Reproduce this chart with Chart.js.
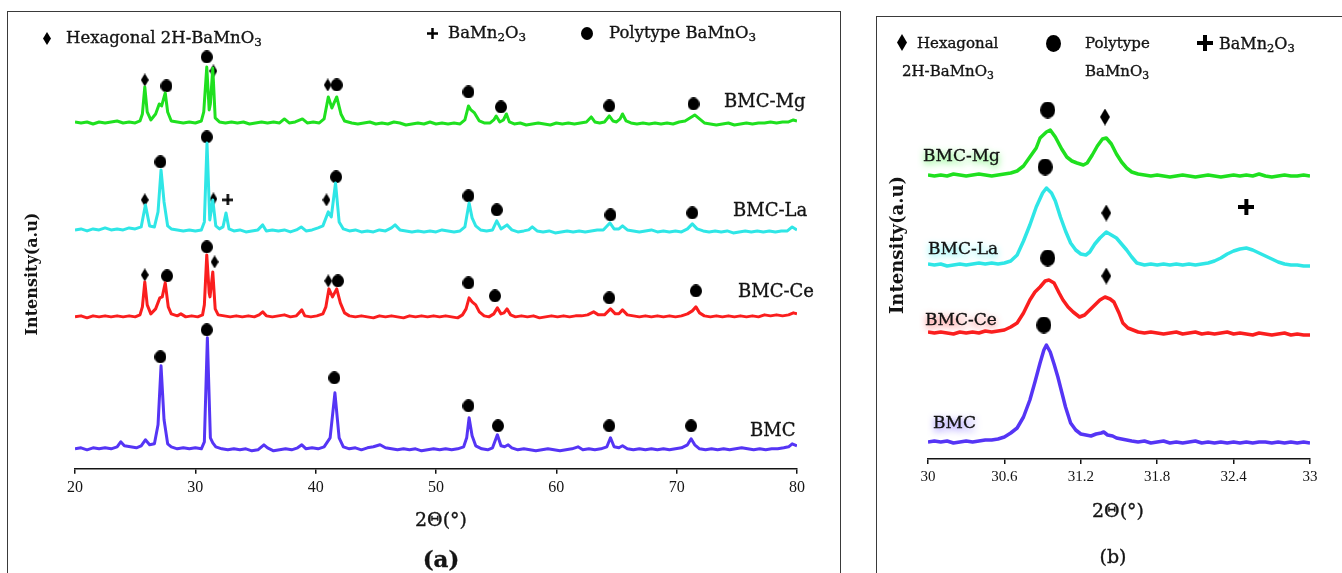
<!DOCTYPE html>
<html>
<head>
<meta charset="utf-8">
<script src="https://cdn.jsdelivr.net/npm/chart.js@4.4.0/dist/chart.umd.min.js"></script>
<style>
  html, body { margin: 0; padding: 0; background: #fff; }
  body { width: 1342px; height: 573px; position: relative; overflow: hidden;
         font-family: "DejaVu Serif", serif; color: #141414; }
  .frame { position: absolute; border: 1.5px solid #3a3a3a; height: 700px; }
  .t { position: absolute; white-space: nowrap; line-height: 1; transform: translateY(-50%);
       -webkit-text-stroke: 0.35px #141414; }
  .c { transform: translate(-50%, -50%); }
  .rot { position: absolute; white-space: nowrap; line-height: 1; font-weight: bold;
         transform: translate(-50%, -50%) rotate(-90deg); }
  sub { font-size: 0.72em; vertical-align: -0.3em; line-height: 0; }
  .mk { position: absolute; }
  canvas.chart { position: absolute; }
</style>
</head>
<body>
<div class="frame" style="left:7px; top:11px; width:832px;"></div>
<div class="frame" style="left:876px; top:16px; width:480px;"></div>

<canvas id="chartA" class="chart" width="832" height="561" style="left:8px; top:12px;"></canvas>
<canvas id="chartB" class="chart" width="465" height="556" style="left:877px; top:17px;"></canvas>

<!-- panel (a) texts -->
<div class="t" style="left:66px; top:38px; font-size:16.5px;">Hexagonal 2H-BaMnO<sub>3</sub></div>
<div class="t" style="left:448px; top:33px; font-size:16.5px;">BaMn<sub>2</sub>O<sub>3</sub></div>
<div class="t" style="left:609px; top:33px; font-size:16.5px;">Polytype BaMnO<sub>3</sub></div>
<div class="t" style="left:724px; top:101px; font-size:18px;">BMC-Mg</div>
<div class="t" style="left:733px; top:210px; font-size:18px;">BMC-La</div>
<div class="t" style="left:738px; top:291px; font-size:18px;">BMC-Ce</div>
<div class="t" style="left:750px; top:430px; font-size:18px;">BMC</div>
<div class="rot" style="left:32px; top:274px; font-size:16px;">Intensity(a.u)</div>
<div class="t c" style="left:441px; top:519px; font-size:19px;">2Θ(°)</div>
<div class="t c" style="left:441px; top:558px; font-size:23px; font-weight:bold;">(a)</div>

<!-- panel (b) texts -->
<div class="t" style="left:917px; top:43px; font-size:15px;">Hexagonal</div>
<div class="t" style="left:902px; top:71px; font-size:15px;">2H-BaMnO<sub>3</sub></div>
<div class="t" style="left:1085px; top:43px; font-size:15px;">Polytype</div>
<div class="t" style="left:1085px; top:71px; font-size:15px;">BaMnO<sub>3</sub></div>
<div class="t" style="left:1219px; top:44px; font-size:16px;">BaMn<sub>2</sub>O<sub>3</sub></div>
<div class="t" style="left:923px; top:155px; font-size:17px; text-shadow:0 3px 7px #3df03d;">BMC-Mg</div>
<div class="t" style="left:928px; top:248px; font-size:17px; text-shadow:0 3px 7px #3ff0f0;">BMC-La</div>
<div class="t" style="left:925px; top:319px; font-size:17px; text-shadow:0 3px 7px #ff4a4a;">BMC-Ce</div>
<div class="t" style="left:933px; top:422px; font-size:17px; text-shadow:0 3px 7px #6a50ff;">BMC</div>
<div class="rot" style="left:897px; top:245px; font-size:18px;">Intensity(a.u)</div>
<div class="t c" style="left:1118px; top:510px; font-size:19px;">2Θ(°)</div>
<div class="t c" style="left:1113px; top:556px; font-size:19px;">(b)</div>

<script>
// ---------- panel (a): 2theta 20-80, intensity above each trace's own baseline ----------
const ticksA = [20, 30, 40, 50, 60, 70, 80];
const seriesNames = ["BMC-Mg", "BMC-La", "BMC-Ce", "BMC"];
const seriesColors = ["#1fe01f", "#2fe6e6", "#fa1e1e", "#5535f5"];
const offsetsA = [345, 237, 152, 19];

const mgA = [[20,2],[20.5,1],[21,2],[21.5,0],[22,2],[22.5,1],[23,2],[23.5,3],[24,1],[24.5,2],[25,1],[25.4,3],[25.6,10],[25.8,37],[26,12],[26.3,4],[26.7,10],[27,20],[27.2,18],[27.5,31],[27.7,12],[28,3],[28.5,2],[29,1],[29.5,2],[30,1],[30.5,3],[30.7,12],[30.95,57],[31.15,14],[31.25,20],[31.45,56],[31.65,6],[32,2],[32.5,1],[33,2],[33.5,1],[34,2],[34.5,0],[35,1],[35.5,2],[36,1],[36.5,2],[37,1],[37.4,5],[37.8,1],[38.3,2],[38.9,5],[39.3,1],[39.8,2],[40.3,1],[40.7,5],[41.05,27],[41.35,16],[41.75,27],[42.1,10],[42.4,3],[43,1],[43.5,0],[44,1],[44.5,2],[45,0],[45.5,1],[46,0],[46.5,2],[47,1],[47.5,-1],[48,0],[48.5,1],[49,0],[49.5,2],[50,0],[50.5,1],[51,0],[51.5,1],[52,0],[52.4,4],[52.7,18],[52.9,14],[53.2,11],[53.6,3],[54,1],[54.5,1],[54.8,4],[55,8],[55.3,2],[55.6,4],[55.85,10],[56.1,2],[56.5,0],[57,1],[57.5,-1],[58,0],[58.5,1],[59,0],[59.5,-1],[60,1],[60.5,0],[61,1],[61.5,0],[62,1],[62.5,2],[62.9,7],[63.2,2],[63.6,1],[64,2],[64.4,8],[64.7,3],[65,2],[65.3,5],[65.5,10],[65.8,3],[66.2,1],[66.7,0],[67.2,1],[67.7,0],[68.2,1],[68.7,0],[69.2,1],[69.7,0],[70.2,2],[70.7,3],[71.1,6],[71.5,9],[71.9,5],[72.3,1],[72.8,0],[73.3,-1],[73.8,0],[74.3,1],[74.8,-1],[75.3,0],[75.8,1],[76.3,0],[76.8,1],[77.3,1],[77.8,2],[78.3,1],[78.8,2],[79.3,2],[79.7,4],[80,3]];
const laA = [[20,2],[20.5,3],[21,1],[21.5,3],[22,2],[22.5,4],[23,2],[23.5,3],[24,2],[24.5,4],[25,3],[25.5,5],[25.85,27],[26.2,6],[26.6,5],[26.9,20],[27.15,62],[27.4,30],[27.7,6],[28,3],[28.5,2],[29,1],[29.5,2],[30,1],[30.5,2],[30.75,10],[30.97,89],[31.2,12],[31.45,32],[31.7,6],[32,3],[32.3,5],[32.55,19],[32.8,3],[33.2,1],[33.7,2],[34.2,0],[34.7,1],[35.2,2],[35.6,7],[35.9,1],[36.4,2],[36.9,1],[37.4,2],[37.9,0],[38.4,2],[38.8,5],[39.2,1],[39.7,2],[40.2,4],[40.6,6],[41.05,20],[41.3,15],[41.65,49],[41.95,10],[42.3,3],[42.8,1],[43.3,2],[43.8,0],[44.3,1],[44.8,0],[45.3,2],[45.8,1],[46.3,4],[46.6,7],[47,2],[47.5,1],[48,0],[48.5,1],[49,0],[49.5,1],[50,0],[50.5,2],[51,1],[51.5,0],[52,1],[52.4,5],[52.75,29],[53,14],[53.3,6],[53.7,2],[54.2,1],[54.7,2],[55.05,11],[55.4,3],[55.9,7],[56.3,2],[56.8,0],[57.3,1],[57.7,2],[58,5],[58.4,1],[58.9,0],[59.4,1],[59.9,-1],[60.4,0],[60.9,1],[61.4,0],[61.9,1],[62.4,0],[62.9,1],[63.4,2],[63.9,2],[64.45,9],[64.8,3],[65.2,3],[65.5,6],[65.9,2],[66.4,1],[66.9,0],[67.4,1],[67.9,2],[68.4,0],[68.9,1],[69.4,0],[69.9,1],[70.4,0],[70.9,3],[71.3,8],[71.7,3],[72.2,1],[72.7,0],[73.2,1],[73.7,0],[74.2,1],[74.7,-1],[75.2,0],[75.7,1],[76.2,0],[76.7,1],[77.2,0],[77.7,1],[78.2,0],[78.7,1],[79.2,1],[79.6,5],[80,2]];
const ceA = [[20,0],[20.5,1],[21,-1],[21.5,1],[22,0],[22.5,1],[23,0],[23.5,1],[24,0],[24.5,1],[25,0],[25.4,2],[25.6,10],[25.8,35],[26,12],[26.3,3],[26.7,8],[27.05,19],[27.25,20],[27.5,34],[27.75,10],[28,3],[28.5,1],[28.8,3],[29.2,0],[29.7,1],[30.2,0],[30.6,2],[30.75,12],[30.95,62],[31.15,24],[31.22,20],[31.45,45],[31.65,8],[31.9,2],[32.4,1],[32.9,0],[33.4,1],[33.9,0],[34.4,1],[34.9,0],[35.3,2],[35.6,5],[35.9,1],[36.4,0],[36.9,1],[37.4,2],[37.9,0],[38.4,1],[38.85,7],[39.1,1],[39.6,0],[40.1,1],[40.6,3],[40.85,10],[41.1,28],[41.4,20],[41.75,28],[42.05,14],[42.4,4],[42.8,1],[43.3,0],[43.8,1],[44.3,0],[44.8,-1],[45.3,1],[45.8,0],[46.3,1],[46.8,0],[47.3,-1],[47.8,1],[48.3,0],[48.8,1],[49.3,0],[49.8,1],[50.3,0],[50.8,1],[51.3,0],[51.8,-1],[52.2,2],[52.5,8],[52.75,19],[53,15],[53.3,12],[53.6,5],[54,1],[54.4,0],[54.8,3],[55.1,9],[55.4,3],[55.65,4],[55.9,8],[56.2,2],[56.6,0],[57.1,1],[57.6,0],[58.1,1],[58.6,-1],[59.1,0],[59.6,1],[60.1,0],[60.6,1],[61.1,0],[61.6,1],[62.1,1],[62.6,2],[63.1,5],[63.5,2],[64,2],[64.5,8],[64.9,3],[65.2,3],[65.5,7],[65.9,2],[66.4,1],[66.9,0],[67.4,1],[67.9,0],[68.4,1],[68.9,0],[69.4,1],[69.9,0],[70.4,1],[70.9,3],[71.3,6],[71.6,10],[71.9,4],[72.3,1],[72.8,0],[73.3,1],[73.8,0],[74.3,1],[74.8,0],[75.3,1],[75.8,0],[76.3,1],[76.8,0],[77.3,2],[77.8,1],[78.3,2],[78.8,1],[79.3,2],[79.7,4],[80,3]];
const bmcA = [[20,1],[20.5,2],[21,0],[21.5,2],[22,1],[22.5,2],[23,1],[23.5,3],[23.8,8],[24.1,4],[24.6,3],[25.1,2],[25.5,4],[25.85,10],[26.2,5],[26.6,6],[26.9,25],[27.15,84],[27.4,30],[27.7,6],[28,3],[28.5,1],[29,2],[29.5,1],[30,2],[30.5,1],[30.75,8],[31,112],[31.25,12],[31.45,7],[31.7,3],[32.2,1],[32.7,0],[33.2,1],[33.7,0],[34.2,1],[34.7,-1],[35.2,0],[35.7,5],[36,2],[36.5,-1],[37,0],[37.5,1],[38,0],[38.5,2],[38.85,5],[39.2,1],[39.7,2],[40.2,1],[40.7,3],[41.2,12],[41.6,57],[41.95,12],[42.3,3],[42.8,1],[43.3,2],[43.8,0],[44.3,2],[44.8,3],[45.35,5],[45.8,2],[46.3,1],[46.8,0],[47.3,1],[47.8,0],[48.3,1],[48.8,-1],[49.3,0],[49.8,1],[50.3,0],[50.8,1],[51.3,0],[51.8,1],[52.3,3],[52.55,12],[52.75,32],[53,14],[53.3,4],[53.8,1],[54.3,0],[54.7,2],[55.1,15],[55.4,4],[55.7,3],[56,5],[56.3,2],[56.8,0],[57.3,1],[57.8,0],[58.3,-1],[58.8,0],[59.3,1],[59.8,0],[60.3,-1],[60.8,0],[61.3,1],[61.8,3],[62.2,0],[62.7,1],[63.2,0],[63.7,1],[64.2,3],[64.5,12],[64.8,3],[65.2,2],[65.5,4],[65.9,1],[66.4,0],[66.9,1],[67.4,0],[67.9,1],[68.4,0],[68.9,1],[69.4,0],[69.9,1],[70.4,2],[70.9,5],[71.2,11],[71.5,5],[71.9,1],[72.4,0],[72.9,1],[73.4,0],[73.9,1],[74.4,0],[74.9,1],[75.4,2],[75.9,1],[76.4,0],[76.9,1],[77.4,0],[77.9,1],[78.4,1],[78.9,2],[79.3,3],[79.6,6],[80,4]];

// phase marks: [2theta, height above baseline, kind] d = hexagonal 2H, c = polytype, p = BaMn2O3
const mgMarksA = [[25.8,44,"d"],[27.6,38,"c"],[30.95,67,"c"],[31.5,53,"d"],[41.0,39,"d"],[41.75,39,"c"],[52.7,32,"c"],[55.4,17,"c"],[64.4,18,"c"],[71.4,20,"c"]];
const laMarksA = [[25.8,32,"d"],[27.1,70,"c"],[30.95,95,"c"],[31.5,33,"d"],[32.7,32,"p"],[40.9,32,"d"],[41.7,55,"c"],[52.7,36,"c"],[55.05,22,"c"],[64.5,17,"c"],[71.3,19,"c"]];
const ceMarksA = [[25.8,42,"d"],[27.65,41,"c"],[30.95,70,"c"],[31.6,55,"d"],[41.05,36,"d"],[41.85,36,"c"],[52.7,34,"c"],[54.9,21,"c"],[64.4,19,"c"],[71.6,26,"c"]];
const bmcMarksA = [[27.1,93,"c"],[30.95,120,"c"],[41.55,72,"c"],[52.7,44,"c"],[55.15,24,"c"],[64.4,24,"c"],[71.2,24,"c"]];

// ---------- panel (b): zoom 30-33 ----------
const ticksB = [30, 30.6, 31.2, 31.8, 32.4, 33];
const offsetsB = [283, 194, 126, 17];

const mgB = [[30,1],[30.05,0],[30.1,1],[30.15,0],[30.2,2],[30.25,1],[30.3,0],[30.35,1],[30.4,2],[30.45,1],[30.5,0],[30.55,1],[30.6,2],[30.65,3],[30.7,5],[30.75,10],[30.8,19],[30.85,28],[30.88,38],[30.93,44],[30.96,46],[31,39],[31.05,27],[31.09,19],[31.13,15],[31.17,13],[31.22,11],[31.25,13],[31.29,21],[31.33,30],[31.37,37],[31.4,38],[31.44,32],[31.48,22],[31.52,14],[31.56,8],[31.6,4],[31.65,2],[31.7,1],[31.75,0],[31.8,1],[31.85,0],[31.9,-1],[31.95,0],[32,1],[32.05,0],[32.1,-1],[32.15,0],[32.2,1],[32.25,0],[32.3,-1],[32.35,0],[32.4,1],[32.45,0],[32.5,1],[32.55,0],[32.6,2],[32.65,0],[32.7,-1],[32.75,0],[32.8,1],[32.85,0],[32.9,0],[32.95,1],[33,0]];
const laB = [[30,1],[30.05,0],[30.1,1],[30.15,-1],[30.2,0],[30.25,1],[30.3,0],[30.35,1],[30.4,2],[30.45,1],[30.5,2],[30.55,1],[30.6,2],[30.65,4],[30.7,10],[30.75,24],[30.8,40],[30.85,58],[30.9,72],[30.93,77],[30.97,72],[31,64],[31.04,48],[31.08,34],[31.12,22],[31.16,15],[31.2,11],[31.24,10],[31.27,13],[31.31,21],[31.35,27],[31.4,33],[31.44,30],[31.48,27],[31.52,21],[31.56,15],[31.6,8],[31.64,2],[31.7,0],[31.75,1],[31.8,0],[31.85,1],[31.9,0],[31.95,1],[32,0],[32.05,1],[32.1,0],[32.15,1],[32.2,2],[32.25,4],[32.3,7],[32.35,11],[32.4,14],[32.45,16],[32.5,17],[32.55,15],[32.6,12],[32.65,9],[32.7,6],[32.75,3],[32.8,1],[32.85,0],[32.9,0],[32.95,-1],[33,-1]];
const ceB = [[30,1],[30.05,0],[30.1,1],[30.15,0],[30.2,-1],[30.25,1],[30.3,0],[30.35,1],[30.4,0],[30.45,2],[30.5,1],[30.55,2],[30.6,3],[30.65,6],[30.7,10],[30.75,20],[30.8,33],[30.84,41],[30.88,46],[30.92,52],[30.95,53],[30.99,50],[31.03,40],[31.06,33],[31.1,26],[31.14,21],[31.19,16],[31.23,18],[31.27,23],[31.31,28],[31.35,33],[31.39,36],[31.43,34],[31.46,31],[31.5,20],[31.53,10],[31.57,5],[31.61,3],[31.65,1],[31.7,0],[31.75,1],[31.8,0],[31.85,-1],[31.9,0],[31.95,1],[32,-1],[32.05,0],[32.1,1],[32.15,-1],[32.2,0],[32.25,-1],[32.3,0],[32.35,1],[32.4,-1],[32.45,0],[32.5,-1],[32.55,-2],[32.6,0],[32.65,-1],[32.7,-2],[32.75,-1],[32.8,0],[32.85,-2],[32.9,-1],[32.95,-2],[33,-2]];
const bmcB = [[30,0],[30.05,1],[30.1,0],[30.15,1],[30.2,-1],[30.25,0],[30.3,1],[30.35,0],[30.4,1],[30.45,2],[30.5,2],[30.55,3],[30.6,5],[30.65,9],[30.7,14],[30.75,25],[30.8,42],[30.84,60],[30.88,79],[30.91,92],[30.93,97],[30.96,90],[30.99,78],[31.02,65],[31.05,50],[31.08,35],[31.12,19],[31.16,12],[31.2,8],[31.24,7],[31.28,6],[31.32,8],[31.36,9],[31.38,10],[31.41,7],[31.45,6],[31.48,4],[31.52,3],[31.56,2],[31.6,1],[31.65,0],[31.7,1],[31.75,-1],[31.8,0],[31.85,1],[31.9,-1],[31.95,0],[32,-1],[32.05,0],[32.1,1],[32.15,-1],[32.2,0],[32.25,-1],[32.3,0],[32.35,-1],[32.4,0],[32.45,-1],[32.5,0],[32.55,-1],[32.6,0],[32.65,0],[32.7,-1],[32.75,0],[32.8,-1],[32.85,0],[32.9,-1],[32.95,0],[33,-1]];

const mgMarksB = [[30.94,66,"c"],[31.39,59,"d"]];
const laMarksB = [[30.92,98,"c"],[31.4,52,"d"],[32.5,58,"p"]];
const ceMarksB = [[30.94,75,"c"],[31.4,57,"d"]];
const bmcMarksB = [[30.91,117,"c"]];

// Marker glyphs drawn on small canvases, used as point styles
function makeMarker(kind, w, h, lw) {
  const c = document.createElement("canvas");
  c.width = w; c.height = h;
  const g = c.getContext("2d");
  g.fillStyle = "#000"; g.strokeStyle = "#000";
  g.beginPath();
  if (kind === "c") {
    g.ellipse(w / 2, h / 2, w / 2, h / 2, 0, 0, Math.PI * 2);
    g.fill();
  } else if (kind === "d") {
    g.moveTo(w / 2, 0); g.lineTo(w, h / 2); g.lineTo(w / 2, h); g.lineTo(0, h / 2);
    g.closePath(); g.fill();
  } else {
    g.lineWidth = lw;
    g.moveTo(w / 2, 0); g.lineTo(w / 2, h); g.moveTo(0, h / 2); g.lineTo(w, h / 2);
    g.stroke();
  }
  return c;
}
const stylesA = { c: makeMarker("c", 12, 13), d: makeMarker("d", 8, 13), p: makeMarker("p", 11, 11, 2.5) };
const stylesB = { c: makeMarker("c", 15, 17), d: makeMarker("d", 10, 17), p: makeMarker("p", 16, 16, 4) };

// legend markers
function placeMarker(spec, cx, cy) {
  const c = makeMarker(spec.k, spec.w, spec.h, spec.lw);
  c.className = "mk";
  c.style.left = (cx - spec.w / 2) + "px";
  c.style.top = (cy - spec.h / 2) + "px";
  document.body.appendChild(c);
}
placeMarker({ k: "d", w: 8, h: 13 }, 47, 38);
placeMarker({ k: "p", w: 11, h: 11, lw: 2.5 }, 432, 33);
placeMarker({ k: "c", w: 12, h: 13 }, 587, 33);
placeMarker({ k: "d", w: 10, h: 17 }, 902, 42);
placeMarker({ k: "c", w: 15, h: 17 }, 1053, 43);
placeMarker({ k: "p", w: 16, h: 16, lw: 4 }, 1205, 43);

function buildDatasets(series, marks, offsets, styles, lineWidth) {
  const sets = [];
  series.forEach((pts, i) => {
    sets.push({
      label: seriesNames[i],
      data: pts.map(p => ({ x: p[0], y: p[1] + offsets[i] })),
      showLine: true, borderColor: seriesColors[i], borderWidth: lineWidth,
      pointRadius: 0, tension: 0, fill: false, borderJoinStyle: "round"
    });
  });
  marks.forEach((list, i) => {
    ["c", "d", "p"].forEach(k => {
      const pts = list.filter(m => m[2] === k);
      if (!pts.length) return;
      sets.push({
        label: seriesNames[i] + " " + k,
        data: pts.map(m => ({ x: m[0], y: m[1] + offsets[i] })),
        showLine: false, pointStyle: styles[k], pointRadius: 5, clip: false
      });
    });
  });
  return sets;
}

function makeChart(id, datasets, xmin, xmax, tickVals, tickSize, pad, ymax) {
  return new Chart(document.getElementById(id), {
    type: "scatter",
    data: { datasets },
    options: {
      responsive: false,
      animation: false,
      layout: { padding: pad },
      plugins: { legend: { display: false }, tooltip: { enabled: false } },
      scales: {
        x: {
          type: "linear", min: xmin, max: xmax,
          afterBuildTicks: ax => { ax.ticks = tickVals.map(v => ({ value: v })); },
          ticks: { font: { family: "Liberation Serif", size: tickSize }, color: "#141414", padding: 4,
                   maxRotation: 0, callback: v => String(v) },
          grid: { drawOnChartArea: false, drawTicks: true, tickLength: 5, color: "#141414", lineWidth: 1.5 },
          border: { display: true, color: "#141414", width: 1.5 }
        },
        y: { display: false, min: 0, max: ymax }
      }
    }
  });
}

makeChart("chartA",
  buildDatasets([mgA, laA, ceA, bmcA], [mgMarksA, laMarksA, ceMarksA, bmcMarksA], offsetsA, stylesA, 3),
  20, 80, ticksA, 16, { left: 67, right: 43, top: 7, bottom: 72 }, 450);

makeChart("chartB",
  buildDatasets([mgB, laB, ceB, bmcB], [mgMarksB, laMarksB, ceMarksB, bmcMarksB], offsetsB, stylesB, 3.5),
  30, 33, ticksB, 15, { left: 51, right: 32, top: 42, bottom: 83 }, 400);
</script>
</body>
</html>
